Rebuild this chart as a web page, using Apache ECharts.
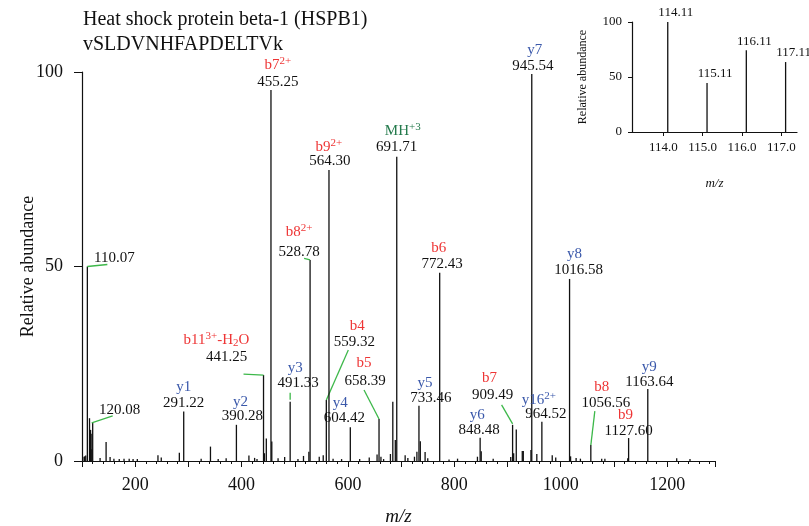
<!DOCTYPE html>
<html>
<head>
<meta charset="utf-8">
<script src="https://cdn.jsdelivr.net/npm/echarts@6/dist/echarts.min.js"></script>
<style>
    html, body {margin: 0; padding: 0; background: #fff;}
    #chart {width: 809px; height: 526px;}
</style>
</head>
<body>
<div id="chart"></div>
<script>
// unlabelled peaks: m/z and relative abundance
const peak_mz = [101.5, 104.5, 107.0, 114.11, 115.11, 116.11, 117.11, 118.5, 134.0, 145.3, 152.8, 160.0, 170.0,
    179.0, 188.7, 196.0, 204.0, 242.8, 249.0, 283.0, 324.0, 341.5, 356.0, 371.0, 413.8, 424.5, 429.0, 443.0,
    446.5, 456.8, 468.6, 481.0, 506.0, 516.4, 526.5, 546.0, 553.5, 572.0, 588.0, 622.0, 640.0, 654.7, 662.0,
    667.0, 679.8, 684.3, 689.0, 707.5, 712.6, 725.0, 729.6, 736.0, 745.0, 750.0, 790.0, 806.0, 843.4, 850.5,
    873.0, 906.0, 911.5, 916.4, 927.7, 929.6, 944.0, 955.0, 984.0, 990.6, 1018.5, 1028.9, 1037.0, 1077.0,
    1083.0, 1126.0, 1218.0, 1243.0];
const peak_int = [1.0, 1.2, 1.4, 11.0, 5.0, 8.0, 7.0, 3.0, 0.8, 4.9, 1.0, 0.6, 0.5,
    0.6, 0.6, 0.5, 0.5, 1.5, 0.9, 2.1, 0.6, 3.7, 0.5, 0.7, 1.4, 0.8, 0.5, 2.0,
    5.8, 5.0, 0.7, 1.0, 0.5, 1.3, 2.4, 1.1, 1.5, 0.6, 0.5, 0.5, 0.9, 1.7, 1.1,
    0.5, 1.8, 15.2, 5.4, 1.5, 0.8, 1.1, 2.4, 5.1, 2.3, 0.7, 0.4, 0.6, 1.1, 2.5,
    0.6, 1.0, 2.0, 8.1, 2.6, 2.6, 2.8, 1.8, 1.5, 0.9, 1.2, 0.8, 0.6, 0.6,
    0.6, 0.7, 0.7, 0.5];

// labelled peaks
const ann_mz = [110.07, 120.08, 291.22, 390.28, 441.25, 455.25, 491.33, 528.78, 559.32, 564.30, 604.42, 658.39,
    691.71, 733.46, 772.43, 848.48, 909.49, 945.54, 964.52, 1016.58, 1056.56, 1127.60, 1163.64];
const ann_int = [50.0, 9.8, 12.7, 9.3, 22.1, 95.4, 15.2, 51.7, 15.7, 74.8, 8.7, 10.8,
    78.2, 14.2, 48.4, 6.0, 9.3, 99.5, 10.1, 46.8, 4.1, 5.9, 18.5];
const ann_text = ['110.07', '120.08', '291.22', '390.28', '441.25', '455.25', '491.33', '528.78', '559.32', '564.30',
    '604.42', '658.39', '691.71', '733.46', '772.43', '848.48', '909.49', '945.54', '964.52', '1016.58', '1056.56',
    '1127.60', '1163.64'];
const ann_ion = ['', '', 'y1', 'y2', 'b11^{3+}-H_{2}O', 'b7^{2+}', 'y3', 'b8^{2+}', 'b4', 'b9^{2+}', 'y4', 'b5',
    'MH^{+3}', 'y5', 'b6', 'y6', 'b7', 'y7', 'y16^{2+}', 'y8', 'b8', 'b9', 'y9'];

// reporter ion inset
const rep_mz = [114.11, 115.11, 116.11, 117.11];
const rep_int = [100, 44.5, 74.3, 63.6];
const rep_text = ['114.11', '115.11', '116.11', '117.11'];

const SERIF = '"Liberation Serif", "DejaVu Serif", serif';
const ION_COLOR = {b: '#ee3535', y: '#3a58aa', M: '#247a4c'};
const LEADER = '#3db84a';

// label offsets from the peak top, in px: [ion dx, ion dy, number dx, number dy, leader]
const label_layout = [
    [0, 0, 27, -8, [[0, 0], [20, -2]]],
    [0, 0, 27, -13, [[-1, 0], [20, -7]]],
    [0, -25, 0, -9],
    [4, -23, 6, -9],
    [-47, -35, -37, -18, [[-20, -1], [0, 0]]],
    [7, -25, 7, -8],
    [5, -34, 8, -19, [[0, -2], [0, -9]]],
    [-11, -28, -11, -8, [[-6, -1.5], [0, 0]]],
    [31, -74, 28, -58, [[22, -50], [0, 0]]],
    [0, -23, 1, -9],
    [-10, -24, -6, -9],
    [-15, -56, -14, -38, [[-15, -29], [0, 0]]],
    [6, -26, 0, -10],
    [6, -23, 12, -8],
    [-1, -25, 2.5, -9],
    [-3, -23, -1, -8],
    [-23, -47, -20, -30, [[-11, -20], [0, -1]]],
    [3, -24, 1, -8],
    [-3, -22, 4, -8],
    [5, -25, 9, -9],
    [11, -58, 15, -42, [[4, -34], [0, 0]]],
    [-3, -23, 0, -7],
    [1.5, -22, 1.5, -7]
];

function to_rich(s) {
    return s.split(/(\^\{[^}]*\}|_\{[^}]*\})/).filter(t => t).map(t => {
        if (t[0] === '^') return '{sup|' + t.slice(2, -1) + '}';
        if (t[0] === '_') return '{sub|' + t.slice(2, -1) + '}';
        return '{n|' + t + '}';
    }).join('');
}

function ion_rich(color) {
    return {
        n: {fill: color, fontSize: 15, fontFamily: SERIF},
        sup: {fill: color, fontSize: 11, fontFamily: SERIF, padding: [0, 0, 8, 0]},
        sub: {fill: color, fontSize: 11, fontFamily: SERIF, padding: [7, 0, 0, 0]}
    };
}

function stick(api) {
    const top = api.coord([api.value(0), api.value(1)]);
    const bottom = api.coord([api.value(0), 0]);
    return {
        type: 'line',
        shape: {x1: top[0], y1: top[1], x2: bottom[0], y2: bottom[1]},
        style: {stroke: '#111', lineWidth: 1.3}
    };
}

function render_peak(params, api) {
    return stick(api);
}

function render_annotated(params, api) {
    const i = params.dataIndex;
    const p = api.coord([api.value(0), api.value(1)]);
    const lay = label_layout[i];
    const children = [stick(api)];
    if (lay[4]) {
        children.push({
            type: 'polyline',
            shape: {points: lay[4].map(q => [p[0] + q[0], p[1] + q[1]])},
            style: {stroke: LEADER, lineWidth: 1.3, fill: null}
        });
    }
    children.push({
        type: 'text', x: p[0] + lay[2], y: p[1] + lay[3],
        style: {text: ann_text[i], fill: '#111', fontSize: 15, fontFamily: SERIF, align: 'center', verticalAlign: 'middle'}
    });
    if (ann_ion[i]) {
        children.push({
            type: 'text', x: p[0] + lay[0], y: p[1] + lay[1],
            style: {
                text: to_rich(ann_ion[i]), fontSize: 15, fontFamily: SERIF,
                align: 'center', verticalAlign: 'middle', rich: ion_rich(ION_COLOR[ann_ion[i][0]])
            }
        });
    }
    return {type: 'group', children: children};
}

function render_reporter(params, api) {
    const p = api.coord([api.value(0), api.value(1)]);
    return {
        type: 'group',
        children: [stick(api), {
            type: 'text', x: p[0] + 8, y: p[1] - 9,
            style: {text: rep_text[params.dataIndex], fill: '#111', fontSize: 13, fontFamily: SERIF,
                align: 'center', verticalAlign: 'middle'}
        }]
    };
}

const axis_line = {show: true, lineStyle: {color: '#111', width: 1.2}};

const option = {
    animation: false,
    backgroundColor: '#fff',
    title: {
        text: 'Heat shock protein beta-1 (HSPB1)\nvSLDVNHFAPDELTVk',
        left: 78, top: 2,
        textStyle: {fontFamily: SERIF, fontSize: 20, fontWeight: 'normal', color: '#111', lineHeight: 25}
    },
    grid: [
        {left: 82, right: 94, top: 72, bottom: 65, outerBoundsMode: 'none', containLabel: false},
        {left: 632, right: 12, top: 22, height: 110, outerBoundsMode: 'none', containLabel: false}
    ],
    xAxis: [{
        gridIndex: 0, type: 'value', min: 100, max: 1290, interval: 100,
        axisLine: axis_line,
        axisTick: {show: true, length: 6, lineStyle: {color: '#111'}},
        minorTick: {show: true, splitNumber: 5, length: 3, lineStyle: {color: '#111'}},
        axisLabel: {
            formatter: v => (v % 200 === 0 ? String(v) : ''),
            fontFamily: SERIF, fontSize: 18, color: '#111', margin: 15
        },
        splitLine: {show: false},
        name: 'm/z', nameLocation: 'middle', nameGap: 46, nameMoveOverlap: false,
        nameTextStyle: {fontFamily: SERIF, fontSize: 19, fontStyle: 'italic', color: '#111'}
    }, {
        gridIndex: 1, type: 'value', min: 113.2, max: 117.4, splitNumber: 4,
        axisLine: axis_line,
        axisTick: {show: true, length: 4, lineStyle: {color: '#111'}},
        axisLabel: {
            formatter: v => (Math.abs(v - Math.round(v)) < 1e-6 ? v.toFixed(1) : ''),
            showMinLabel: false, showMaxLabel: false,
            fontFamily: SERIF, fontSize: 13, color: '#111', margin: 9
        },
        splitLine: {show: false},
        name: 'm/z', nameLocation: 'middle', nameGap: 45, nameMoveOverlap: false,
        nameTextStyle: {fontFamily: SERIF, fontSize: 13, fontStyle: 'italic', color: '#111'}
    }],
    yAxis: [{
        gridIndex: 0, type: 'value', min: 0, max: 100, interval: 50,
        axisLine: axis_line,
        axisTick: {show: true, length: 8, lineStyle: {color: '#111'}},
        axisLabel: {fontFamily: SERIF, fontSize: 18, color: '#111', margin: 19},
        splitLine: {show: false},
        name: 'Relative abundance', nameLocation: 'middle', nameGap: 45, nameMoveOverlap: false,
        nameTextStyle: {fontFamily: SERIF, fontSize: 18, color: '#111'}
    }, {
        gridIndex: 1, type: 'value', min: 0, max: 100, interval: 50,
        axisLine: axis_line,
        axisTick: {show: true, length: 4, lineStyle: {color: '#111'}},
        axisLabel: {fontFamily: SERIF, fontSize: 13, color: '#111', margin: 10},
        splitLine: {show: false},
        name: 'Relative abundance', nameLocation: 'middle', nameGap: 43, nameMoveOverlap: false,
        nameTextStyle: {fontFamily: SERIF, fontSize: 12, color: '#111'}
    }],
    series: [{
        type: 'custom', xAxisIndex: 0, yAxisIndex: 0,
        renderItem: render_peak,
        data: peak_mz.map((m, i) => [m, peak_int[i]]),
        silent: true
    }, {
        type: 'custom', xAxisIndex: 0, yAxisIndex: 0,
        renderItem: render_annotated,
        data: ann_mz.map((m, i) => [m, ann_int[i]]),
        silent: true
    }, {
        type: 'custom', xAxisIndex: 1, yAxisIndex: 1,
        renderItem: render_reporter,
        data: rep_mz.map((m, i) => [m, rep_int[i]]),
        silent: true
    }]
};

let chart = echarts.init(document.getElementById('chart'), null, {renderer: 'canvas'});
chart.setOption(option);
window.addEventListener('resize', function () {
    chart.resize();
});
</script>
</body>
</html>
